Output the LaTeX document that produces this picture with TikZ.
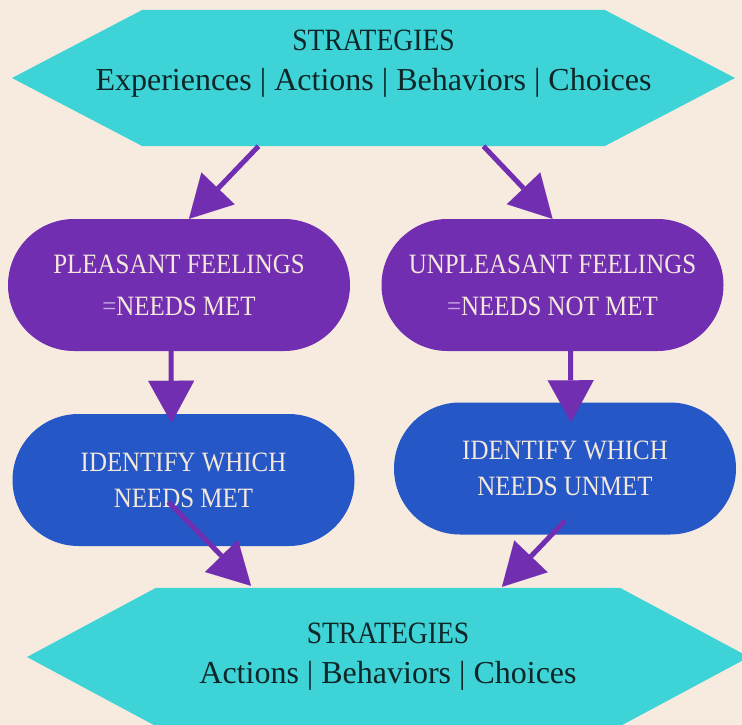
\documentclass[tikz,border=0pt]{standalone}
\usepackage{fontspec}
\setmainfont{Liberation Serif}
\newfontfamily\capsfont[FakeStretch=0.89]{Liberation Serif}
\usetikzlibrary{arrows.meta,backgrounds}
\definecolor{paper}{HTML}{F7EBE0}
\definecolor{aqua}{HTML}{3ED3D6}
\definecolor{grape}{HTML}{722EB1}
\definecolor{royal}{HTML}{2557C6}
\definecolor{ink}{HTML}{0E2628}
\definecolor{cream}{HTML}{F4E8DC}
\definecolor{lilac}{HTML}{C8A8E2}
\tikzset{hex/.style={text=ink,align=center,inner sep=0pt,
  font=\fontsize{32}{40}\selectfont},
  pill/.style={rounded corners=66pt,minimum width=342pt,minimum height=132pt,
  text=cream,align=center,font=\capsfont\fontsize{28}{42}\selectfont},
  flow/.style={-{Triangle[length=42pt,width=46pt,line width=0.01pt]},line width=5pt,draw=grape}}

\begin{document}
\begin{tikzpicture}[x=1pt,y=-1pt]
\useasboundingbox (0,0) rectangle (742,725);
\begin{scope}[on background layer]
\fill[paper] (0,0) rectangle (742,725);
\end{scope}
\node[hex,minimum height=136pt,text depth=36pt] (top) at (373.5,78)
  {{\capsfont\fontsize{31}{40}\selectfont STRATEGIES}\\Experiences | Actions | Behaviors | Choices};
\node[pill,fill=grape] (pleasant) at (179,285) {PLEASANT FEELINGS\\{\color{lilac}=}NEEDS MET};
\node[pill,fill=grape] (unpleasant) at (552.5,285) {UNPLEASANT FEELINGS\\{\color{lilac}=}NEEDS NOT MET};
\node[pill,fill=royal,font=\capsfont\fontsize{28}{36}\selectfont] (metid) at (183.5,480) {IDENTIFY WHICH\\NEEDS MET};
\node[pill,fill=royal,font=\capsfont\fontsize{28}{36}\selectfont] (unmetid) at (565,468.5) {IDENTIFY WHICH\\NEEDS UNMET};
\node[hex,minimum height=138pt,text depth=8pt] (bottom) at (388,657)
  {{\capsfont\fontsize{31}{40}\selectfont STRATEGIES}\\Actions | Behaviors | Choices};
% hexagons behind the strategy texts
\begin{scope}[on background layer]
\fill[aqua] ([xshift=-231pt]top.north) -- ([xshift=231pt]top.north) -- ([xshift=361.5pt]top.center)
  -- ([xshift=231pt]top.south) -- ([xshift=-231pt]top.south) -- ([xshift=-361.5pt]top.center) -- cycle;
\fill[aqua] ([xshift=-232pt]bottom.north) -- ([xshift=232pt]bottom.north) -- ([xshift=361pt]bottom.center)
  -- ([xshift=232pt]bottom.south) -- ([xshift=-232pt]bottom.south) -- ([xshift=-361pt]bottom.center) -- cycle;
\end{scope}
% arrows
\draw[flow] ([xshift=-115pt]top.south) -- ([xshift=10pt]pleasant.north);
\draw[flow] ([xshift=110pt]top.south) -- (unpleasant.north);
\draw[flow] ([xshift=-8pt]pleasant.south) -- ([xshift=-12pt,yshift=-9pt]metid.north);
\draw[flow] ([xshift=18pt]unpleasant.south) -- ([xshift=6pt,yshift=-20pt]unmetid.north);
\draw[flow] ([xshift=-15pt,yshift=-22pt]metid.center) -- ([xshift=-137pt,yshift=2pt]bottom.north);
\draw[flow] ([yshift=14pt]unmetid.south) -- ([xshift=114pt,yshift=1pt]bottom.north);
\end{tikzpicture}
\end{document}
